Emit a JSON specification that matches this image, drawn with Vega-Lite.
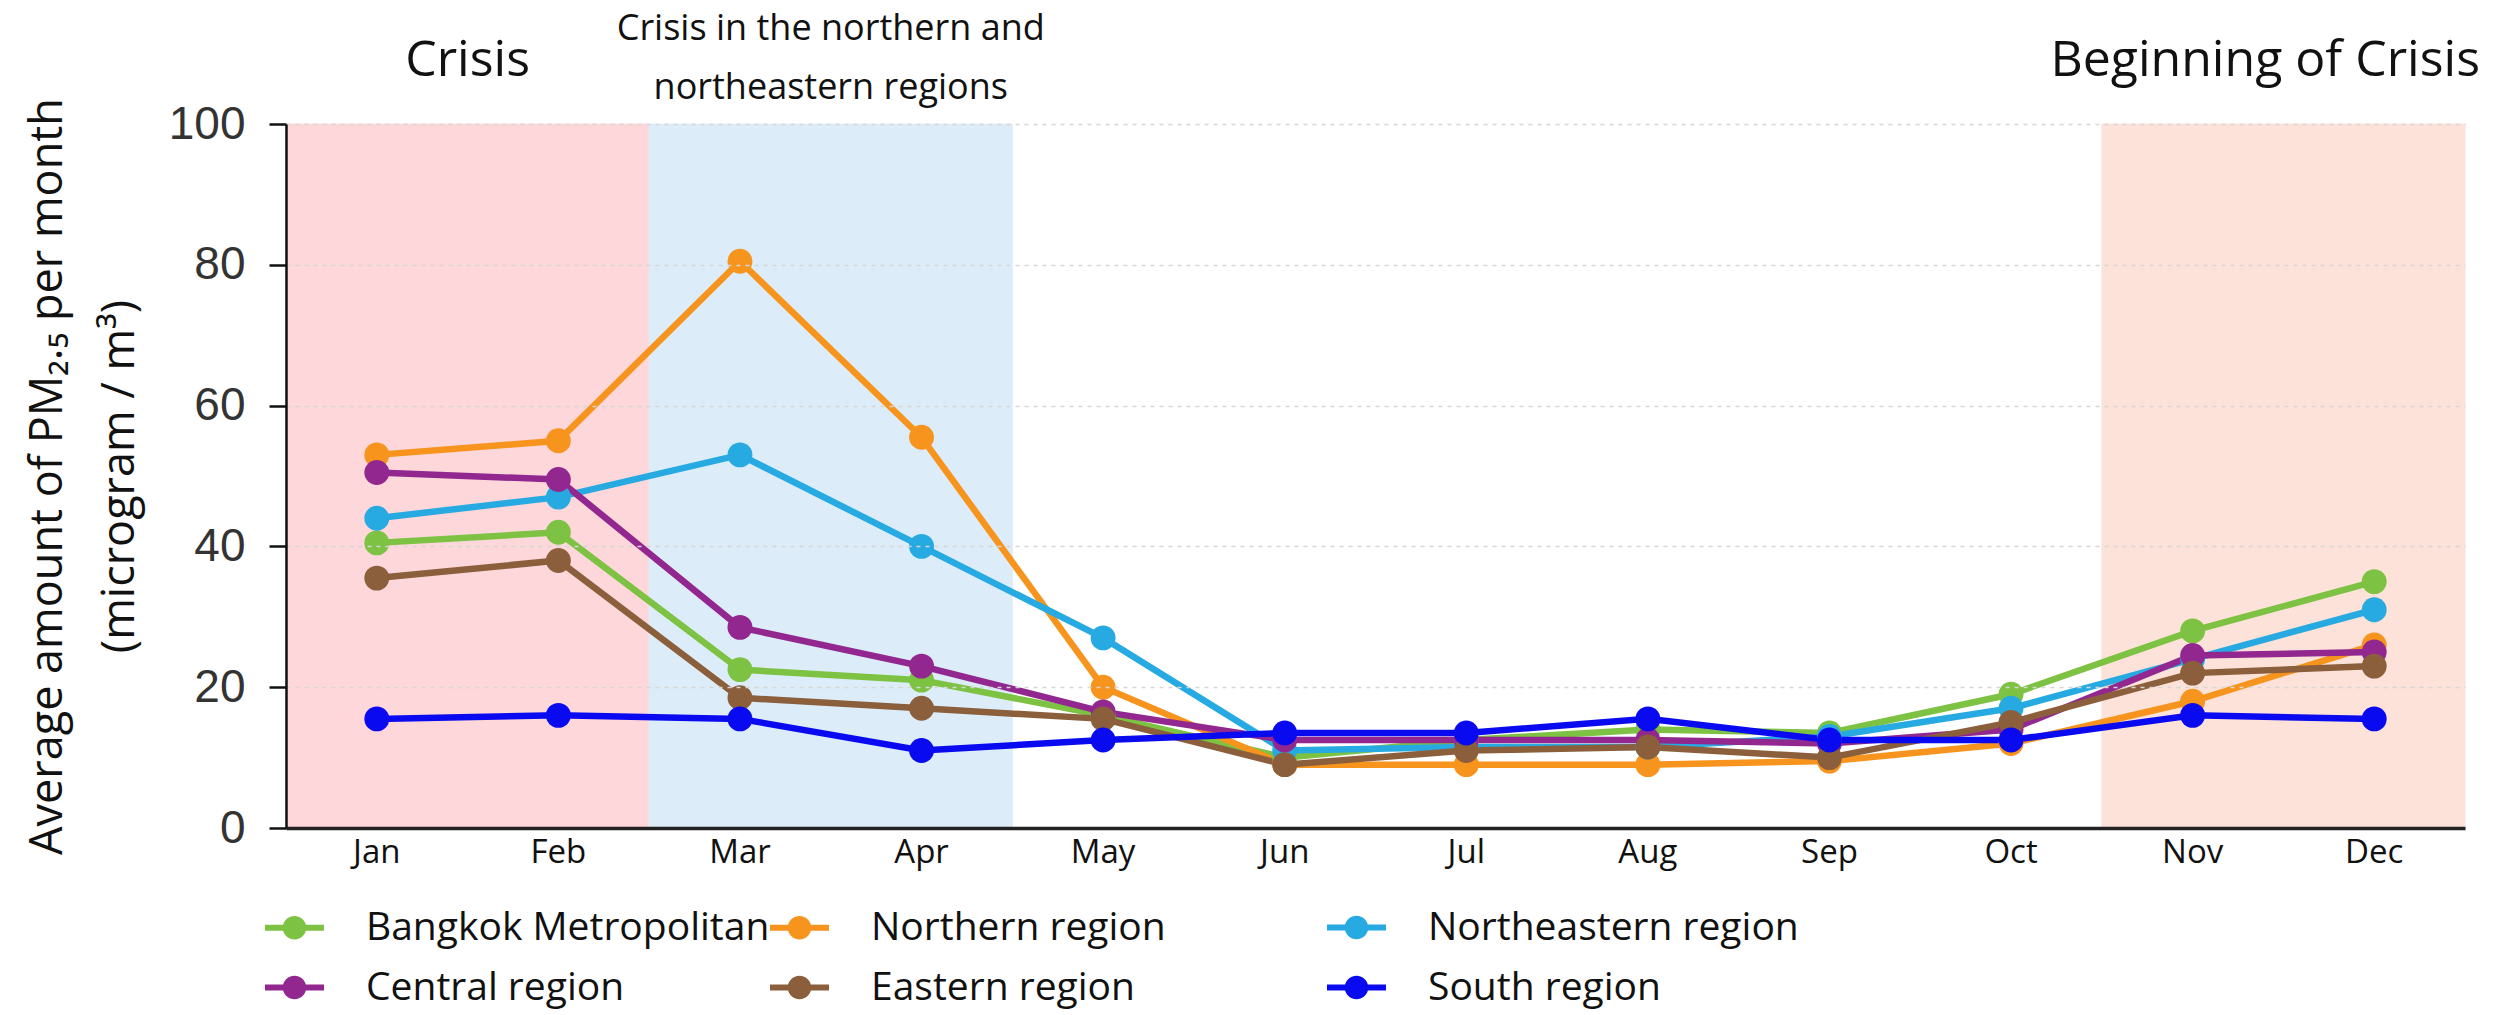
{
  "$schema": "https://vega.github.io/schema/vega-lite/v6.json",
  "autosize": {"type": "none"},
  "width": 2179,
  "height": 704,
  "padding": {"left": 286, "top": 124, "right": 31, "bottom": 187},
  "background": "white",
  "config": {
    "view": {"stroke": null},
    "font": "Open Sans",
    "legend": {
      "title": null,
      "orient": "none",
      "direction": "horizontal",
      "gridAlign": "each",
      "rowPadding": 10,
      "columnPadding": -20,
      "symbolType": "M-1,-0.1L1,-0.1L1,0.1L-1,0.1Z M0.4,0 A0.4,0.4 0 1,1 -0.4,0 A0.4,0.4 0 1,1 0.4,0 Z",
      "symbolSize": 3480,
      "symbolStrokeWidth": 0,
      "labelFont": "Open Sans",
      "labelFontSize": 39,
      "labelColor": "#111111",
      "labelOffset": 42,
      "labelLimit": 0
    }
  },
  "datasets": {
    "pm": [
      {"month": "Jan", "region": "Bangkok Metropolitan", "value": 40.5},
      {"month": "Feb", "region": "Bangkok Metropolitan", "value": 42},
      {"month": "Mar", "region": "Bangkok Metropolitan", "value": 22.5},
      {"month": "Apr", "region": "Bangkok Metropolitan", "value": 21},
      {"month": "May", "region": "Bangkok Metropolitan", "value": 16},
      {"month": "Jun", "region": "Bangkok Metropolitan", "value": 10},
      {"month": "Jul", "region": "Bangkok Metropolitan", "value": 12.5},
      {"month": "Aug", "region": "Bangkok Metropolitan", "value": 14},
      {"month": "Sep", "region": "Bangkok Metropolitan", "value": 13.5},
      {"month": "Oct", "region": "Bangkok Metropolitan", "value": 19},
      {"month": "Nov", "region": "Bangkok Metropolitan", "value": 28},
      {"month": "Dec", "region": "Bangkok Metropolitan", "value": 35},
      {"month": "Jan", "region": "Northern region", "value": 53},
      {"month": "Feb", "region": "Northern region", "value": 55},
      {"month": "Mar", "region": "Northern region", "value": 80.5},
      {"month": "Apr", "region": "Northern region", "value": 55.5},
      {"month": "May", "region": "Northern region", "value": 20},
      {"month": "Jun", "region": "Northern region", "value": 9},
      {"month": "Jul", "region": "Northern region", "value": 9},
      {"month": "Aug", "region": "Northern region", "value": 9},
      {"month": "Sep", "region": "Northern region", "value": 9.5},
      {"month": "Oct", "region": "Northern region", "value": 12},
      {"month": "Nov", "region": "Northern region", "value": 18},
      {"month": "Dec", "region": "Northern region", "value": 26},
      {"month": "Jan", "region": "Northeastern region", "value": 44},
      {"month": "Feb", "region": "Northeastern region", "value": 47},
      {"month": "Mar", "region": "Northeastern region", "value": 53},
      {"month": "Apr", "region": "Northeastern region", "value": 40},
      {"month": "May", "region": "Northeastern region", "value": 27},
      {"month": "Jun", "region": "Northeastern region", "value": 11},
      {"month": "Jul", "region": "Northeastern region", "value": 11.5},
      {"month": "Aug", "region": "Northeastern region", "value": 11.5},
      {"month": "Sep", "region": "Northeastern region", "value": 13},
      {"month": "Oct", "region": "Northeastern region", "value": 17},
      {"month": "Nov", "region": "Northeastern region", "value": 24},
      {"month": "Dec", "region": "Northeastern region", "value": 31},
      {"month": "Jan", "region": "Central region", "value": 50.5},
      {"month": "Feb", "region": "Central region", "value": 49.5},
      {"month": "Mar", "region": "Central region", "value": 28.5},
      {"month": "Apr", "region": "Central region", "value": 23},
      {"month": "May", "region": "Central region", "value": 16.5},
      {"month": "Jun", "region": "Central region", "value": 12.5},
      {"month": "Jul", "region": "Central region", "value": 12.5},
      {"month": "Aug", "region": "Central region", "value": 12.5},
      {"month": "Sep", "region": "Central region", "value": 12},
      {"month": "Oct", "region": "Central region", "value": 14},
      {"month": "Nov", "region": "Central region", "value": 24.5},
      {"month": "Dec", "region": "Central region", "value": 25},
      {"month": "Jan", "region": "Eastern region", "value": 35.5},
      {"month": "Feb", "region": "Eastern region", "value": 38},
      {"month": "Mar", "region": "Eastern region", "value": 18.5},
      {"month": "Apr", "region": "Eastern region", "value": 17},
      {"month": "May", "region": "Eastern region", "value": 15.5},
      {"month": "Jun", "region": "Eastern region", "value": 9},
      {"month": "Jul", "region": "Eastern region", "value": 11},
      {"month": "Aug", "region": "Eastern region", "value": 11.5},
      {"month": "Sep", "region": "Eastern region", "value": 10},
      {"month": "Oct", "region": "Eastern region", "value": 15},
      {"month": "Nov", "region": "Eastern region", "value": 22},
      {"month": "Dec", "region": "Eastern region", "value": 23},
      {"month": "Jan", "region": "South region", "value": 15.5},
      {"month": "Feb", "region": "South region", "value": 16},
      {"month": "Mar", "region": "South region", "value": 15.5},
      {"month": "Apr", "region": "South region", "value": 11},
      {"month": "May", "region": "South region", "value": 12.5},
      {"month": "Jun", "region": "South region", "value": 13.5},
      {"month": "Jul", "region": "South region", "value": 13.5},
      {"month": "Aug", "region": "South region", "value": 15.5},
      {"month": "Sep", "region": "South region", "value": 12.5},
      {"month": "Oct", "region": "South region", "value": 12.5},
      {"month": "Nov", "region": "South region", "value": 16},
      {"month": "Dec", "region": "South region", "value": 15.5}
    ],
    "zones": [
      {"month": "Jan", "zone": "Crisis", "top": 100, "bottom": 0},
      {"month": "Feb", "zone": "Crisis", "top": 100, "bottom": 0},
      {"month": "Mar", "zone": "North", "top": 100, "bottom": 0},
      {"month": "Apr", "zone": "North", "top": 100, "bottom": 0},
      {"month": "Nov", "zone": "Beginning", "top": 100, "bottom": 0},
      {"month": "Dec", "zone": "Beginning", "top": 100, "bottom": 0}
    ],
    "notes": [
      {"month": "Jan", "label": "Crisis", "level": 109, "kind": "big"},
      {"month": "Dec", "label": "Beginning of Crisis", "level": 109, "kind": "right"},
      {"month": "Mar", "label": "Crisis in the northern and\nnortheastern regions", "level": 113.5, "kind": "small"}
    ]
  },
  "encoding": {
    "x": {
      "field": "month",
      "type": "ordinal",
      "sort": ["Jan","Feb","Mar","Apr","May","Jun","Jul","Aug","Sep","Oct","Nov","Dec"],
      "scale": {"type": "band", "paddingInner": 0, "paddingOuter": 0, "domain": ["Jan","Feb","Mar","Apr","May","Jun","Jul","Aug","Sep","Oct","Nov","Dec"]},
      "axis": {
        "title": null,
        "labelAngle": 0,
        "labelFont": "Open Sans",
        "labelFontSize": 33,
        "labelColor": "#111111",
        "labelPadding": 8,
        "ticks": false,
        "domainColor": "#222222",
        "domainWidth": 3.5,
        "grid": false
      }
    }
  },
  "layer": [
    {
      "data": {"name": "zones"},
      "transform": [{"filter": "datum.zone == 'Crisis'"}],
      "mark": {"type": "rect", "fill": "#fdd7d9", "stroke": "#fdd7d9", "strokeWidth": 1},
      "encoding": {
        "y": {"field": "top", "type": "quantitative", "scale": {"domain": [0, 100]}},
        "y2": {"field": "bottom"}
      }
    },
    {
      "data": {"name": "zones"},
      "transform": [{"filter": "datum.zone == 'North'"}],
      "mark": {"type": "rect", "fill": "#dcedf9", "stroke": "#dcedf9", "strokeWidth": 1},
      "encoding": {
        "y": {"field": "top", "type": "quantitative"},
        "y2": {"field": "bottom"}
      }
    },
    {
      "data": {"name": "zones"},
      "transform": [{"filter": "datum.zone == 'Beginning'"}],
      "mark": {"type": "rect", "fill": "#fce2d8", "stroke": "#fce2d8", "strokeWidth": 1},
      "encoding": {
        "y": {"field": "top", "type": "quantitative"},
        "y2": {"field": "bottom"}
      }
    },
    {
      "data": {"name": "pm"},
      "mark": {"type": "line", "strokeWidth": 6.5},
      "encoding": {
        "y": {
          "field": "value",
          "type": "quantitative",
          "scale": {"domain": [0, 100]},
          "axis": {
            "values": [0, 20, 40, 60, 80, 100],
            "title": ["Average amount of PM₂.₅ per month", "(microgram / m³)"],
            "titleFont": "Open Sans",
            "titleFontSize": 45,
            "titleFontWeight": "normal",
            "titleColor": "#111111",
            "titleLineHeight": 72,
            "titlePadding": 26,
            "labelFont": "Liberation Sans",
            "labelFontSize": 46,
            "labelColor": "#333333",
            "labelPadding": 24,
            "tickSize": 17,
            "tickColor": "#111111",
            "tickWidth": 2.5,
            "domainColor": "#111111",
            "domainWidth": 2.5,
            "grid": true,
            "gridColor": "#d6d6d6",
            "gridDash": [4, 5],
            "gridWidth": 1.5,
            "zindex": 1
          }
        },
        "color": {
          "field": "region",
          "type": "nominal",
          "scale": {
            "domain": ["Bangkok Metropolitan", "Northern region", "Northeastern region", "Central region", "Eastern region", "South region"],
            "range": ["#7dc242", "#f7941d", "#27aae1", "#92278f", "#8b5e3c", "#0a0af0"]
          },
          "legend": {
            "values": ["Bangkok Metropolitan", "Northern region", "Central region", "Eastern region"],
            "columns": 2,
            "legendX": -21,
            "legendY": 774,
            "encode": {
              "symbols": {
                "update": {
                  "fill": {"scale": "color", "field": "value"},
                  "fillOpacity": {"value": 1},
                  "strokeWidth": {"value": 0}
                }
              }
            }
          }
        }
      }
    },
    {
      "data": {"name": "pm"},
      "mark": {"type": "point", "filled": true, "opacity": 1, "size": 620},
      "encoding": {
        "y": {"field": "value", "type": "quantitative"},
        "fill": {
          "field": "region",
          "type": "nominal",
          "scale": {
            "domain": ["Northeastern region", "South region", "Bangkok Metropolitan", "Northern region", "Central region", "Eastern region"],
            "range": ["#27aae1", "#0a0af0", "#7dc242", "#f7941d", "#92278f", "#8b5e3c"]
          },
          "legend": {
            "values": ["Northeastern region", "South region"],
            "columns": 1,
            "legendX": 1041,
            "legendY": 774,
            "encode": {
              "symbols": {
                "update": {
                  "fill": {"scale": "fill", "field": "value"},
                  "fillOpacity": {"value": 1},
                  "strokeWidth": {"value": 0}
                }
              }
            }
          }
        }
      }
    },
    {
      "data": {"name": "notes"},
      "transform": [{"filter": "datum.kind == 'big'"}],
      "mark": {"type": "text", "fontSize": 50, "font": "Open Sans", "color": "#111111", "baseline": "middle", "align": "center"},
      "encoding": {
        "x": {"field": "month", "type": "ordinal", "bandPosition": 1},
        "y": {"field": "level", "type": "quantitative"},
        "text": {"field": "label"}
      }
    },
    {
      "data": {"name": "notes"},
      "transform": [{"filter": "datum.kind == 'right'"}],
      "mark": {"type": "text", "fontSize": 50, "font": "Open Sans", "color": "#111111", "baseline": "middle", "align": "right", "dx": 15},
      "encoding": {
        "x": {"field": "month", "type": "ordinal", "bandPosition": 1},
        "y": {"field": "level", "type": "quantitative"},
        "text": {"field": "label"}
      }
    },
    {
      "data": {"name": "notes"},
      "transform": [{"filter": "datum.kind == 'small'"}],
      "mark": {"type": "text", "fontSize": 36, "font": "Open Sans", "color": "#111111", "baseline": "middle", "align": "center", "lineBreak": "\n", "lineHeight": 59},
      "encoding": {
        "x": {"field": "month", "type": "ordinal", "bandPosition": 1},
        "y": {"field": "level", "type": "quantitative"},
        "text": {"field": "label"}
      }
    }
  ]
}
